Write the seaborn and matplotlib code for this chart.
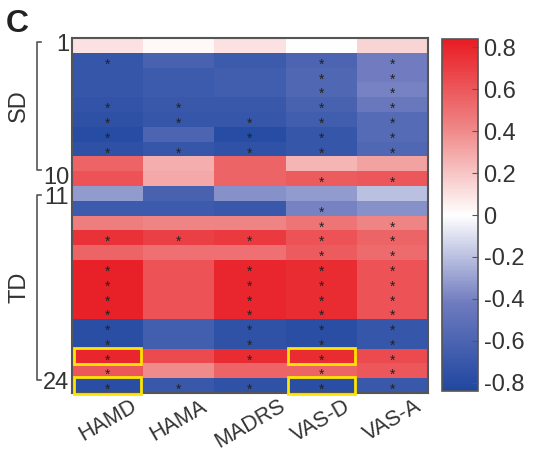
import numpy as np
import pandas as pd
import matplotlib
matplotlib.use("Agg")
import matplotlib.pyplot as plt
import seaborn as sns
from matplotlib.colors import LinearSegmentedColormap
from matplotlib.patches import Rectangle
from matplotlib.transforms import blended_transform_factory

# scales (columns) and subjects (rows 1..24)
scales = ['HAMD', 'HAMA', 'MADRS', 'VAS-D', 'VAS-A']
subjects = list(range(1, 25))

# correlation values per scale, rows 1..24
hamd = [0.10, -0.72, -0.72, -0.72, -0.74, -0.76, -0.80, -0.76, 0.55, 0.62, -0.32, -0.68,
        0.45, 0.75, 0.55, 0.82, 0.82, 0.82, 0.82, -0.78, -0.78, 0.80, 0.60, -0.78]
hama = [0.02, -0.62, -0.68, -0.68, -0.70, -0.72, -0.60, -0.72, 0.28, 0.30, -0.62, -0.68,
        0.42, 0.70, 0.50, 0.62, 0.62, 0.62, 0.62, -0.65, -0.65, 0.65, 0.40, -0.70]
madrs = [0.10, -0.68, -0.66, -0.66, -0.70, -0.72, -0.80, -0.75, 0.55, 0.55, -0.35, -0.70,
         0.42, 0.72, 0.50, 0.80, 0.80, 0.80, 0.80, -0.75, -0.75, 0.78, 0.55, -0.75]
vasd = [0.00, -0.60, -0.58, -0.58, -0.62, -0.66, -0.72, -0.72, 0.25, 0.58, -0.32, -0.40,
        0.48, 0.62, 0.58, 0.78, 0.78, 0.78, 0.78, -0.78, -0.78, 0.78, 0.55, -0.78]
vasa = [0.15, -0.42, -0.42, -0.40, -0.45, -0.55, -0.55, -0.58, 0.32, 0.60, -0.20, -0.35,
        0.42, 0.55, 0.52, 0.62, 0.62, 0.62, 0.62, -0.72, -0.72, 0.65, 0.60, -0.70]

# rows with significant correlation (star)
sig_hamd = [2, 5, 6, 7, 8, 14, 16, 17, 18, 19, 20, 21, 22, 23, 24]
sig_hama = [5, 6, 8, 14, 24]
sig_madrs = [6, 7, 8, 14, 16, 17, 18, 19, 20, 21, 22, 24]
sig_vasd = [2, 3, 4, 5, 6, 7, 8, 10, 12, 13, 14, 15, 16, 17, 18, 19, 20, 21, 22, 23, 24]
sig_vasa = [2, 3, 4, 5, 6, 7, 8, 10, 13, 14, 15, 16, 17, 18, 19, 20, 21, 22, 23, 24]

# highlighted cells (scale, subject)
boxed = [('HAMD', 22), ('HAMD', 24), ('VAS-D', 22), ('VAS-D', 24)]

df = pd.DataFrame({'HAMD': hamd, 'HAMA': hama, 'MADRS': madrs,
                   'VAS-D': vasd, 'VAS-A': vasa}, index=subjects)
sigs = {'HAMD': sig_hamd, 'HAMA': sig_hama, 'MADRS': sig_madrs,
        'VAS-D': sig_vasd, 'VAS-A': sig_vasa}

plt.rcParams['font.family'] = ['Liberation Sans', 'DejaVu Sans']
txt = '#333333'

cmap = LinearSegmentedColormap.from_list(
    'bwr2', [(0.0, '#1f47a0'), (0.25, '#6f7bbf'), (0.5, '#ffffff'),
             (0.75, '#ef8585'), (1.0, '#e81c24')])

fig = plt.figure(figsize=(5.35, 4.53), dpi=100)
ax = fig.add_axes([72/535, 1-393/453, 356/535, 355/453])
cax = fig.add_axes([442/535, 1-391/453, 36/535, 352/453])

sns.heatmap(df, ax=ax, cbar_ax=cax, cmap=cmap, vmin=-0.84, vmax=0.84,
            cbar_kws={'ticks': np.arange(-0.8, 0.81, 0.2)})

for ci, s in enumerate(scales):
    for r in sigs[s]:
        ax.text(ci + 0.5, r - 0.5 + 0.3, '*', ha='center', va='center',
                fontsize=10, color='#222222')

for s, r in boxed:
    ci = scales.index(s)
    ax.add_patch(Rectangle((ci + 0.03, r - 1 - 0.05), 0.94, 1.1, fill=False,
                           edgecolor='#ffe600', linewidth=2, clip_on=False, zorder=5))

# frame
for sp in ax.spines.values():
    sp.set_visible(True)
    sp.set_color('#555555')
    sp.set_linewidth(1.5)

ax.set_yticks([0.5, 9.45, 10.85, 23.3])
ax.set_yticklabels(['1', '10', '11', '24'], rotation=0, fontsize=17, color=txt)
ax.tick_params(axis='y', length=0, pad=2)
ax.set_xticks(np.arange(len(scales)) + 0.5)
ax.set_xticklabels(scales, rotation=30, ha='center', va='top',
                   fontsize=15.5, color=txt)
ax.tick_params(axis='x', length=0, pad=2)
ax.set_xlabel('')
ax.set_ylabel('')

# brackets for groups
tr = blended_transform_factory(ax.transAxes, ax.transData)
bx = -0.098
hook = 0.012
for (y0, y1, lab) in [(0.3, 8.9, 'SD'), (10.6, 23.1, 'TD')]:
    ax.plot([bx + hook, bx, bx, bx + hook], [y0, y0, y1, y1], color='#555555',
            lw=1.2, transform=tr, clip_on=False)
    ax.text(-0.148, (y0 + y1) / 2, lab, rotation=90, ha='center', va='center',
            fontsize=17, color=txt, transform=tr)

# colorbar
cb = ax.collections[0].colorbar
cb.outline.set_edgecolor('#555555')
cb.outline.set_linewidth(1.2)
cb.set_ticklabels(['-0.8', '-0.6', '-0.4', '-0.2', '0', '0.2', '0.4', '0.6', '0.8'])
cax.tick_params(direction='in', length=4, color='#555555', labelsize=17,
                labelcolor=txt, pad=4)

fig.text(6/535, 1-32/453, 'C', fontsize=23, fontweight='bold', color='#222222')

fig.savefig('out.png', dpi=100)
